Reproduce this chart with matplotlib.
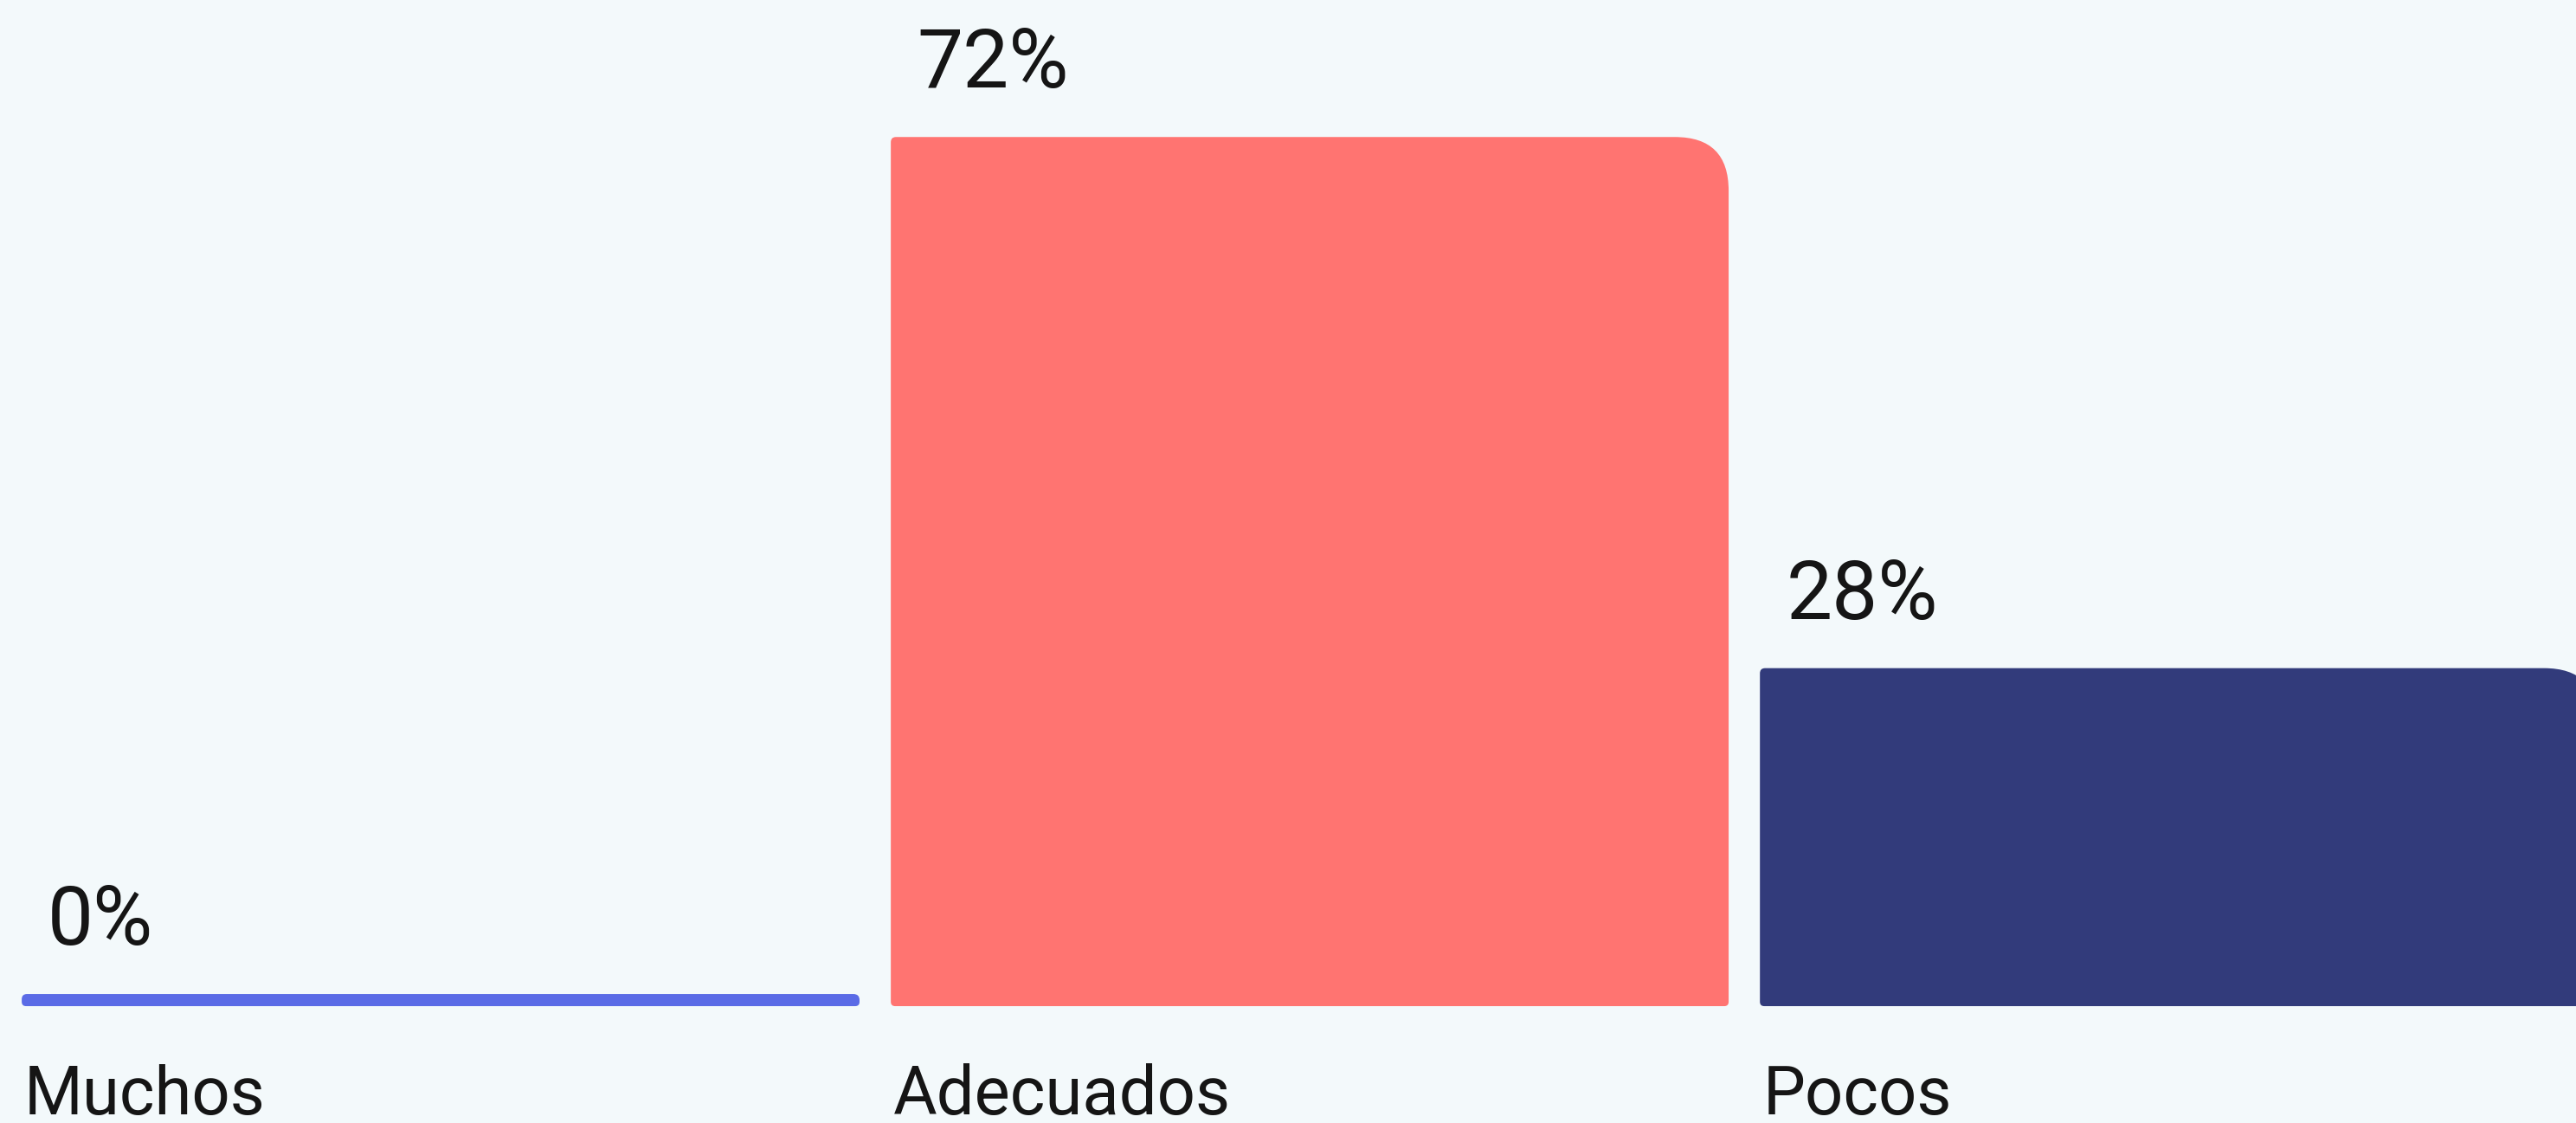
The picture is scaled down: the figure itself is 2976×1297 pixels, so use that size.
import matplotlib
matplotlib.use("Agg")
import matplotlib.pyplot as plt
from matplotlib.path import Path
from matplotlib.patches import PathPatch

# Data
categories = ["Muchos", "Adecuados", "Pocos"]
values = [0, 72, 28]
value_labels = ["0%", "72%", "28%"]
colors = ["#5A6BE6", "#FF7471", "#323B7B"]

BG = "#F3F9FB"
TEXT = "#151515"
plt.rcParams["font.family"] = ["Roboto", "DejaVu Sans"]

DPI = 200
fig = plt.figure(figsize=(2976 / DPI, 1297 / DPI), dpi=DPI)
fig.patch.set_facecolor(BG)
ax = fig.add_axes([0, 0, 1, 1])
ax.set_facecolor(BG)
xlim = (-0.507, 2.457)
ylim = (-9.68, 83.35)
ax.set_xlim(*xlim)
ax.set_ylim(*ylim)
ax.axis("off")

# pixels per data unit, used to turn pixel radii into data units
px_x = 2976 / (xlim[1] - xlim[0])
px_y = 1297 / (ylim[1] - ylim[0])
PT = 72 / DPI  # points per pixel


def rounded_bar(x0, y0, w, h, r_tl, r_tr, r_br, r_bl):
    # radii in pixels, clipped to half the bar size
    lim = min(w * px_x, h * px_y) / 2
    rs = [min(r, lim) for r in (r_tl, r_tr, r_br, r_bl)]
    tl, tr, br, bl = [(r / px_x, r / px_y) for r in rs]
    x1, y1 = x0 + w, y0 + h
    verts = [
        (x0 + bl[0], y0),
        (x1 - br[0], y0),
        (x1, y0), (x1, y0 + br[1]),
        (x1, y1 - tr[1]),
        (x1, y1), (x1 - tr[0], y1),
        (x0 + tl[0], y1),
        (x0, y1), (x0, y1 - tl[1]),
        (x0, y0 + bl[1]),
        (x0, y0), (x0 + bl[0], y0),
        (x0 + bl[0], y0),
    ]
    codes = [Path.MOVETO, Path.LINETO,
             Path.CURVE3, Path.CURVE3,
             Path.LINETO,
             Path.CURVE3, Path.CURVE3,
             Path.LINETO,
             Path.CURVE3, Path.CURVE3,
             Path.LINETO,
             Path.CURVE3, Path.CURVE3,
             Path.CLOSEPOLY]
    return Path(verts, codes)


width = 0.964
min_h = 14 / px_y  # zero values still get a thin bar

for i, (cat, val, lab, col) in enumerate(zip(categories, values, value_labels, colors)):
    left = i - width / 2
    h = max(val, min_h)
    path = rounded_bar(left, 0, width, h, 6, 62, 5, 5)
    ax.add_patch(PathPatch(path, facecolor=col, edgecolor="none", clip_on=True))

    # value label above the bar
    ax.annotate(lab, xy=(left, h), xytext=(30 * PT, 57 * PT),
                textcoords="offset points", ha="left", va="baseline",
                fontsize=34, color=TEXT)
    # category label under the bar
    ax.annotate(cat, xy=(left, 0), xytext=(3 * PT, -125 * PT),
                textcoords="offset points", ha="left", va="baseline",
                fontsize=28, color=TEXT, annotation_clip=False)

fig.savefig("out.png", dpi=DPI, facecolor=BG)
